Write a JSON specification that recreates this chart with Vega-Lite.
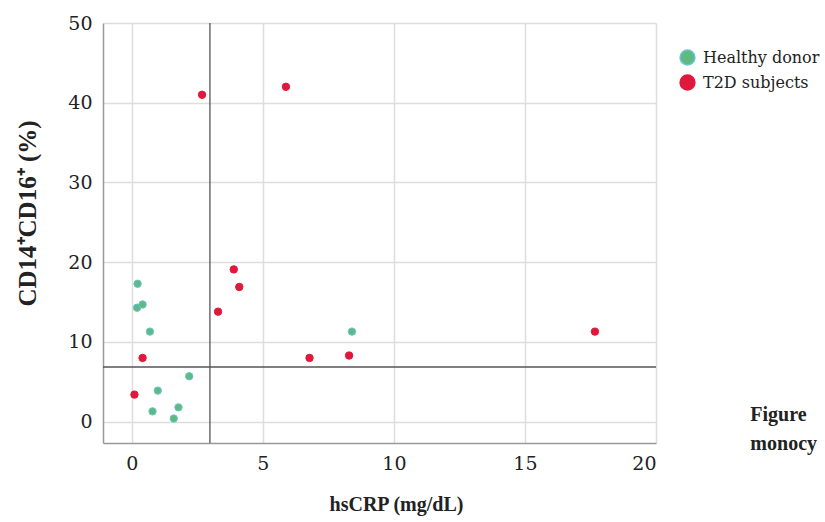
{
  "$schema": "https://vega.github.io/schema/vega-lite/v6.json",
  "width": 553,
  "height": 420,
  "autosize": {"type": "none"},
  "padding": {"left": 103, "top": 23, "right": 169, "bottom": 79},
  "background": "white",
  "config": {
    "view": {"stroke": null},
    "font": "DejaVu Serif"
  },
  "datasets": {
    "pts": [
      {"crp": 0.22, "cd": 17.3, "group": "Healthy donor"},
      {"crp": 0.20, "cd": 14.3, "group": "Healthy donor"},
      {"crp": 0.41, "cd": 14.7, "group": "Healthy donor"},
      {"crp": 0.69, "cd": 11.3, "group": "Healthy donor"},
      {"crp": 2.19, "cd": 5.7, "group": "Healthy donor"},
      {"crp": 0.99, "cd": 3.9, "group": "Healthy donor"},
      {"crp": 0.79, "cd": 1.3, "group": "Healthy donor"},
      {"crp": 1.78, "cd": 1.8, "group": "Healthy donor"},
      {"crp": 1.60, "cd": 0.4, "group": "Healthy donor"},
      {"crp": 8.40, "cd": 11.3, "group": "Healthy donor"},
      {"crp": 3.89, "cd": 19.1, "group": "T2D subjects"},
      {"crp": 4.10, "cd": 16.9, "group": "T2D subjects"},
      {"crp": 3.29, "cd": 13.8, "group": "T2D subjects"},
      {"crp": 0.41, "cd": 8.0, "group": "T2D subjects"},
      {"crp": 0.10, "cd": 3.4, "group": "T2D subjects"},
      {"crp": 6.78, "cd": 8.0, "group": "T2D subjects"},
      {"crp": 8.29, "cd": 8.3, "group": "T2D subjects"},
      {"crp": 2.68, "cd": 41.0, "group": "T2D subjects"},
      {"crp": 5.88, "cd": 42.0, "group": "T2D subjects"},
      {"crp": 17.67, "cd": 11.3, "group": "T2D subjects"}
    ],
    "cutoffs": [
      {"xc": 2.98, "yc": 6.86}
    ],
    "caption": [
      {"cx": 23.6, "cy": 0.9, "txt": "Figure"},
      {"cx": 23.6, "cy": -2.8, "txt": "monocy"}
    ]
  },
  "layer": [
    {
      "data": {"name": "cutoffs"},
      "mark": {"type": "rule", "color": "#555555", "strokeWidth": 1.3},
      "encoding": {"x": {"field": "xc", "type": "quantitative", "scale": {"domain": [-1.1, 20], "nice": false, "zero": false}}}
    },
    {
      "data": {"name": "cutoffs"},
      "mark": {"type": "rule", "color": "#555555", "strokeWidth": 1.3},
      "encoding": {"y": {"field": "yc", "type": "quantitative", "scale": {"domain": [-2.67, 50], "nice": false, "zero": false}}}
    },
    {
      "data": {"name": "pts"},
      "mark": {"type": "circle", "size": 55, "opacity": 1, "strokeWidth": 1},
      "encoding": {
        "x": {
          "field": "crp", "type": "quantitative",
          "scale": {"domain": [-1.1, 20], "nice": false, "zero": false},
          "axis": {
            "values": [0, 5, 10, 15, 20],
            "title": "hsCRP (mg/dL)",
            "titleFont": "Liberation Serif", "titleFontSize": 20, "titleFontWeight": "bold", "titleColor": "#222222",
            "titleX": 293, "titleY": 67, "titleAlign": "center", "titleBaseline": "alphabetic",
            "labelFont": "DejaVu Serif", "labelFontSize": 19, "labelColor": "#222222", "labelPadding": 11,
            "ticks": false, "domainColor": "#999999", "domainWidth": 1.5,
            "grid": true, "gridColor": "#dddddd", "gridWidth": 1.5
          }
        },
        "y": {
          "field": "cd", "type": "quantitative",
          "scale": {"domain": [-2.67, 50], "nice": false, "zero": false},
          "axis": {
            "values": [0, 10, 20, 30, 40, 50],
            "title": "CD14⁺CD16⁺ (%)",
            "titleFont": "Liberation Serif", "titleFontSize": 25, "titleFontWeight": "bold", "titleColor": "#222222",
            "titleX": -76, "titleY": 190, "titleAlign": "center", "titleAngle": -90, "titleBaseline": "middle",
            "labelFont": "DejaVu Serif", "labelFontSize": 19, "labelColor": "#222222", "labelPadding": 11,
            "ticks": false, "domainColor": "#999999", "domainWidth": 1.5,
            "grid": true, "gridColor": "#dddddd", "gridWidth": 1.5
          }
        },
        "fill": {
          "field": "group", "type": "nominal",
          "scale": {"domain": ["Healthy donor", "T2D subjects"], "range": ["#5fba80", "#e0183c"]},
          "legend": {
            "title": null, "orient": "none", "legendX": 576, "legendY": 26,
            "symbolType": "circle", "symbolSize": 220, "symbolStrokeWidth": 1.5,
            "labelFont": "DejaVu Serif", "labelFontSize": 16, "labelColor": "#222222",
            "labelOffset": 7, "rowPadding": 4, "symbolOpacity": 1
          }
        },
        "stroke": {
          "field": "group", "type": "nominal",
          "scale": {"domain": ["Healthy donor", "T2D subjects"], "range": ["#6cc3d8", "#e0183c"]},
          "legend": null
        }
      }
    },
    {
      "data": {"name": "caption"},
      "mark": {"type": "text", "font": "Liberation Serif", "fontSize": 20, "fontWeight": "bold", "align": "left", "baseline": "middle", "color": "#222222"},
      "encoding": {
        "x": {"field": "cx", "type": "quantitative"},
        "y": {"field": "cy", "type": "quantitative"},
        "text": {"field": "txt"}
      }
    }
  ]
}
